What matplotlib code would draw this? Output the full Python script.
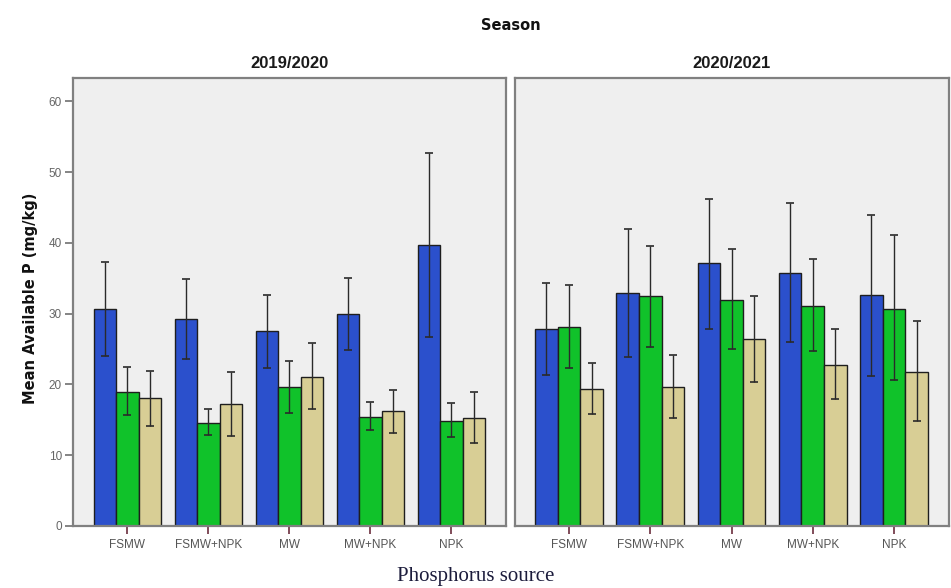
import matplotlib
matplotlib.use("Agg")
import matplotlib.pyplot as plt
import numpy as np

categories = ["FSMW", "FSMW+NPK", "MW", "MW+NPK", "NPK"]
seasons = ["2019/2020", "2020/2021"]
y_ticks = [0, 10, 20, 30, 40, 50, 60]

# Season 2019/2020: mean, lower CI, upper CI for each of the three series
s1_blue = [30.6, 29.3, 27.5, 29.9, 39.7]
s1_blue_lo = [24.0, 23.6, 22.3, 24.8, 26.7]
s1_blue_hi = [37.3, 34.9, 32.7, 35.1, 52.7]
s1_green = [19.0, 14.6, 19.6, 15.4, 14.9]
s1_green_lo = [15.7, 12.8, 16.0, 13.5, 12.6]
s1_green_hi = [22.4, 16.5, 23.3, 17.5, 17.4]
s1_tan = [18.1, 17.2, 21.1, 16.2, 15.3]
s1_tan_lo = [14.2, 12.7, 16.5, 13.2, 11.7]
s1_tan_hi = [21.9, 21.7, 25.8, 19.2, 19.0]

# Season 2020/2021
s2_blue = [27.8, 32.9, 37.1, 35.8, 32.6]
s2_blue_lo = [21.3, 23.9, 27.9, 26.0, 21.2]
s2_blue_hi = [34.3, 41.9, 46.2, 45.7, 44.0]
s2_green = [28.1, 32.5, 32.0, 31.1, 30.7]
s2_green_lo = [22.3, 25.3, 25.0, 24.7, 20.6]
s2_green_hi = [34.0, 39.6, 39.2, 37.7, 41.1]
s2_tan = [19.4, 19.7, 26.4, 22.8, 21.8]
s2_tan_lo = [15.8, 15.2, 20.4, 17.9, 14.8]
s2_tan_hi = [23.1, 24.2, 32.5, 27.9, 28.9]

colors = ["#2b50cc", "#10c22a", "#d8ce95"]

panels = [
    [(s1_blue, s1_blue_lo, s1_blue_hi), (s1_green, s1_green_lo, s1_green_hi), (s1_tan, s1_tan_lo, s1_tan_hi)],
    [(s2_blue, s2_blue_lo, s2_blue_hi), (s2_green, s2_green_lo, s2_green_hi), (s2_tan, s2_tan_lo, s2_tan_hi)],
]

W, H = 951, 588
fig = plt.figure(figsize=(W / 100, H / 100), dpi=100)
fig.patch.set_facecolor("white")

def fx(px):
    return px / W

def fy(py):
    return 1 - py / H

ax_left = [73, 514.5]
ax_right = [505.7, 948.5]
ax_top, ax_bot = 78, 526

bw = 0.278
x = np.arange(len(categories))
for i, (season, series) in enumerate(zip(seasons, panels)):
    ax = fig.add_axes([fx(ax_left[i]), fy(ax_bot), fx(ax_right[i] - ax_left[i]), (ax_bot - ax_top) / H])
    ax.set_facecolor("#efefef")
    for j, (vals, lo, hi) in enumerate(series):
        vals = np.array(vals)
        pos = x + (j - 1) * bw
        ax.bar(pos, vals, width=bw, color=colors[j], edgecolor="#1e1e1e", linewidth=1.0, zorder=2)
        yerr = np.vstack([vals - np.array(lo), np.array(hi) - vals])
        ax.errorbar(pos, vals, yerr=yerr, fmt="none", ecolor="#2a2a2a", elinewidth=1.0,
                    capsize=3, capthick=1.2, zorder=3)
    ax.set_xlim(-0.67, 4.67)
    ax.set_ylim(0, 63.3)
    ax.set_xticks(x)
    ax.set_xticklabels(categories, fontsize=8.5, color="#555555", family="Liberation Sans")
    ax.tick_params(axis="x", length=6, width=1.2, color="#6b2d3d", pad=3)
    for sp in ax.spines.values():
        sp.set_color("#808080")
        sp.set_linewidth(1.6)
    if i == 0:
        ax.set_yticks(y_ticks)
        ax.set_yticklabels([str(t) for t in y_ticks], fontsize=8.5, color="#666666", family="Liberation Sans")
        ax.tick_params(axis="y", length=6, width=1.2, color="#707070", pad=2)
    else:
        ax.set_yticks([])
    fig.text(fx((ax_left[i] + ax_right[i]) / 2), fy(63), season, ha="center", va="center",
             fontsize=12, fontweight="bold", family="Liberation Sans", color="#1a1a1a")

fig.text(fx(511), fy(25.5), "Season", ha="center", va="center", fontsize=10.5,
         fontweight="bold", color="#111111")
fig.text(fx(31), fy(298), "Mean Available P (mg/kg)", ha="center", va="center", rotation=90,
         fontsize=10.5, fontweight="bold", color="#111111")
fig.text(fx(475.5), fy(581), "Phosphorus source", ha="center", va="baseline",
         fontsize=15, family="Liberation Serif", color="#1c1c3c")

fig.savefig("out.png", dpi=100, facecolor="white")
